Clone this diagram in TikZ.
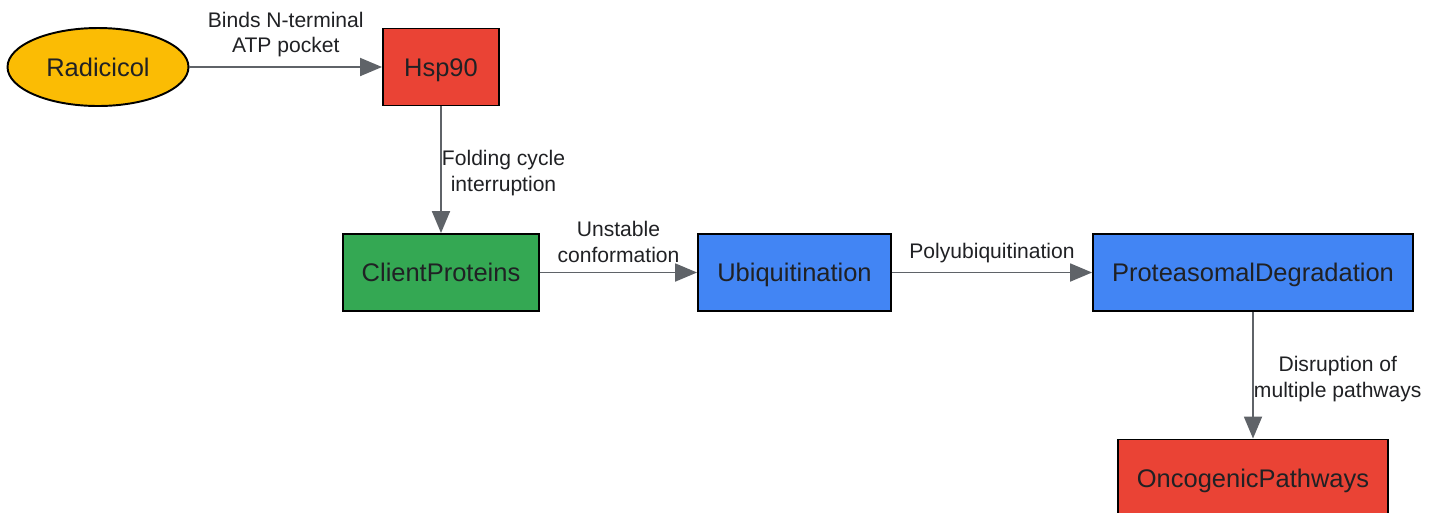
\documentclass[tikz,border=0pt]{standalone}
\usepackage{fontspec}
\setmainfont{Liberation Sans}
\usepackage{xcolor}
\usepackage{tikz}
\usetikzlibrary{shapes.geometric, arrows.meta}
\definecolor{drugyellow}{HTML}{FBBC04}
\definecolor{hspred}{HTML}{EA4335}
\definecolor{clientgreen}{HTML}{34A853}
\definecolor{ubiblue}{HTML}{4285F4}
\definecolor{arrowgray}{HTML}{5F6368}
\definecolor{textdark}{HTML}{202124}
\tikzstyle{proc} = [rectangle, draw=black, line width=1.1pt, minimum height=1.54cm, inner sep=0pt, text height=10.4pt, text depth=0pt, text=textdark, font=\fontsize{14.5}{17}\selectfont]
\tikzstyle{drug} = [ellipse, draw=black, line width=1.1pt, minimum width=3.62cm, minimum height=1.56cm, inner sep=0pt, text height=10.4pt, text depth=0pt, fill=drugyellow, text=textdark, font=\fontsize{14.5}{17}\selectfont]
\tikzstyle{arrow} = [line width=1.1pt, draw=arrowgray, -{Triangle[length=0.44cm, width=0.36cm]}, arrowgray]
\tikzstyle{lbl} = [font=\fontsize{12}{14.7}\selectfont, text=textdark, align=center]

\begin{document}
\begin{tikzpicture}[x=0.02cm, y=-0.02cm]
		\useasboundingbox (0,0) rectangle (1437,512);
		\node (rad) [drug] at (98,67) {Radicicol};
		\node (hsp) [proc, fill=hspred, minimum width=2.32cm] at (441,67) {Hsp90};
		\node (client) [proc, fill=clientgreen, minimum width=3.92cm] at (441,272.5) {ClientProteins};
		\node (ubi) [proc, fill=ubiblue, minimum width=3.86cm] at (794.5,272.5) {Ubiquitination};
		\node (prot) [proc, fill=ubiblue, minimum width=6.4cm] at (1253,272.5) {ProteasomalDegradation};
		\node (onco) [proc, fill=hspred, minimum width=5.4cm] at (1253,478) {OncogenicPathways};
		
		\draw[arrow] (rad) -- node[lbl, above, inner sep=5pt] {Binds N-terminal\\ATP pocket} (hsp);
		\draw[arrow] (hsp) -- node[lbl, right, inner sep=0pt, yshift=-2pt] {Folding cycle\\interruption} (client);
		\draw[arrow] (client) -- node[lbl, above, inner sep=5pt] {Unstable\\conformation} (ubi);
		\draw[arrow] (ubi) -- node[lbl, above, inner sep=5pt] {Polyubiquitination} (prot);
		\draw[arrow] (prot) -- node[lbl, right, inner sep=0pt, yshift=-2pt] {Disruption of\\multiple pathways} (onco);
	\end{tikzpicture}
\end{document}
